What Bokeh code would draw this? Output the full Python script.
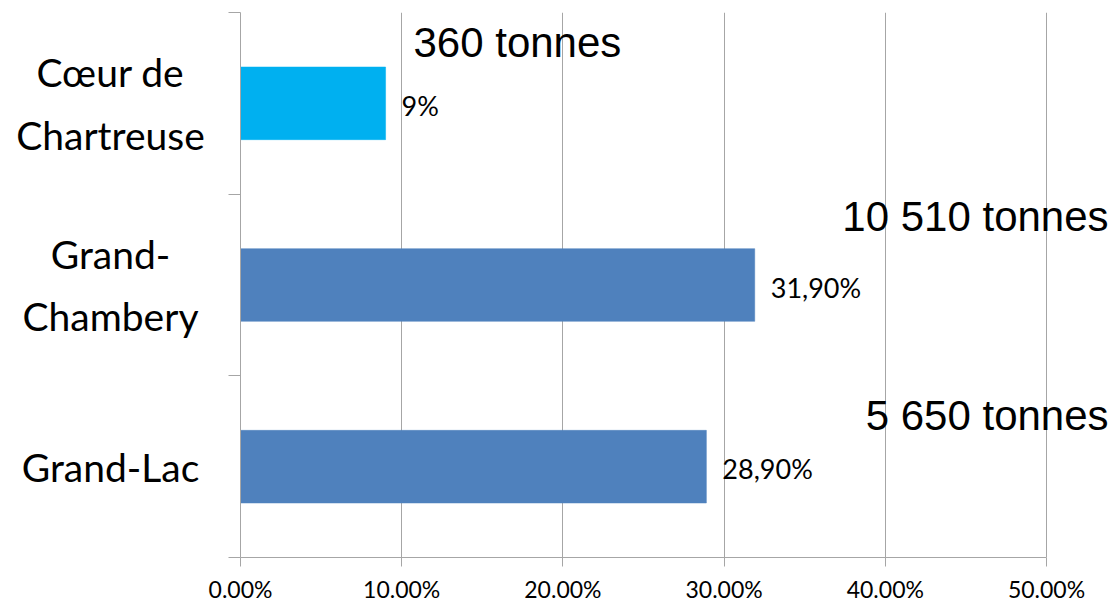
from bokeh.plotting import figure
from bokeh.layouts import row
from bokeh.models import Range1d, FixedTicker, NumeralTickFormatter, ColumnDataSource
from bokeh.core.properties import value
from bokeh.embed import file_html
from bokeh.resources import INLINE

# ---- data (top to bottom) ----
categories = ["Cœur de Chartreuse", "Grand-Chambery", "Grand-Lac"]
axis_labels = ["Cœur de\nChartreuse", "Grand-\nChambery", "Grand-Lac"]
shares = [0.09, 0.319, 0.289]
share_labels = ["9%", "31,90%", "28,90%"]
tonnage_labels = ["360 tonnes", "10 510 tonnes", "5 650 tonnes"]
bar_colors = ["#00B0F0", "#4F81BD", "#4F81BD"]
x_ticks = [0.0, 0.1, 0.2, 0.3, 0.4, 0.5]

n = len(categories)
ypos = [n - i - 0.5 for i in range(n)]

# layout constants for the tonnage annotations
ton_x = [0.1073, 0.5385, 0.5385]
ton_align = ["left", "right", "right"]
ton_dy = [-61, -69, -51]

GRID = "#a6a6a6"
TOP, BOTTOM = 12, 45
LEFT_W = 206
y_range = Range1d(0, n)

# ---- left panel holding the category labels ----
lab_src = ColumnDataSource(dict(y=ypos, t=axis_labels))
left = figure(width=LEFT_W, height=602, frame_width=LEFT_W, frame_height=545,
              x_range=Range1d(0, LEFT_W), y_range=y_range,
              output_backend="svg", toolbar_location=None,
              x_axis_location=None, y_axis_location=None,
              min_border_left=0, min_border_right=0, min_border_top=TOP, min_border_bottom=BOTTOM)
left.outline_line_color = None
left.grid.visible = False
left.text(x=110, y="y", text="t", text_align="center", text_baseline="middle",
          text_font=value("Lato"), text_font_size="39px", text_color="black",
          text_line_height=1.36, source=lab_src)

# ---- main chart ----
p = figure(width=1110 - LEFT_W, height=602, frame_width=870, frame_height=545,
           x_range=Range1d(0, 0.5397), y_range=y_range,
           output_backend="svg", toolbar_location=None,
           min_border_left=240 - LEFT_W, min_border_right=0, min_border_top=TOP, min_border_bottom=BOTTOM)
p.outline_line_color = None
p.background_fill_color = "white"

src = ColumnDataSource(dict(y=ypos, v=shares, c=bar_colors, lab=share_labels,
                            tl=tonnage_labels, tx=ton_x, ta=ton_align, tdy=ton_dy))

p.hbar(y="y", left=0, right="v", height=0.4, fill_color="c", line_color="c", line_width=0.5, source=src)

p.text(x="v", y="y", text="lab", x_offset=16, y_offset=2, text_baseline="middle", text_align="left",
       text_font=value("Lato"), text_font_size="27px", text_color="black", source=src)

p.text(x="tx", y="y", text="tl", y_offset="tdy", text_align="ta", text_baseline="middle",
       text_font=value("Liberation Sans"), text_font_size="42px", text_color="black", source=src)

# x axis
xa = p.xaxis[0]
xa.ticker = FixedTicker(ticks=x_ticks)
xa.formatter = NumeralTickFormatter(format="0.00%")
xa.bounds = (0, 0.5)
xa.axis_line_color = GRID
xa.major_tick_line_color = GRID
xa.major_tick_out = 9
xa.major_tick_in = 0
xa.minor_tick_line_color = None
xa.major_label_standoff = 8
xa.major_label_text_font = "Lato"
xa.major_label_text_font_size = "23px"
xa.major_label_text_color = "black"

# y axis: only the boundary ticks (labels are in the left panel)
ya = p.yaxis[0]
ya.ticker = FixedTicker(ticks=ypos, minor_ticks=list(range(n + 1)))
ya.major_label_overrides = {yv: "" for yv in ypos}
ya.major_label_text_font_size = "0px"
ya.axis_line_color = GRID
ya.major_tick_line_color = None
ya.major_tick_out = 0
ya.major_tick_in = 0
ya.minor_tick_line_color = GRID
ya.minor_tick_out = 12
ya.minor_tick_in = 0
ya.major_label_standoff = 0

p.xgrid.ticker = FixedTicker(ticks=x_ticks)
p.xgrid.grid_line_color = GRID
p.ygrid.grid_line_color = None

layout = row(left, p, spacing=0)
open("out.html", "w").write(file_html(layout, INLINE))
